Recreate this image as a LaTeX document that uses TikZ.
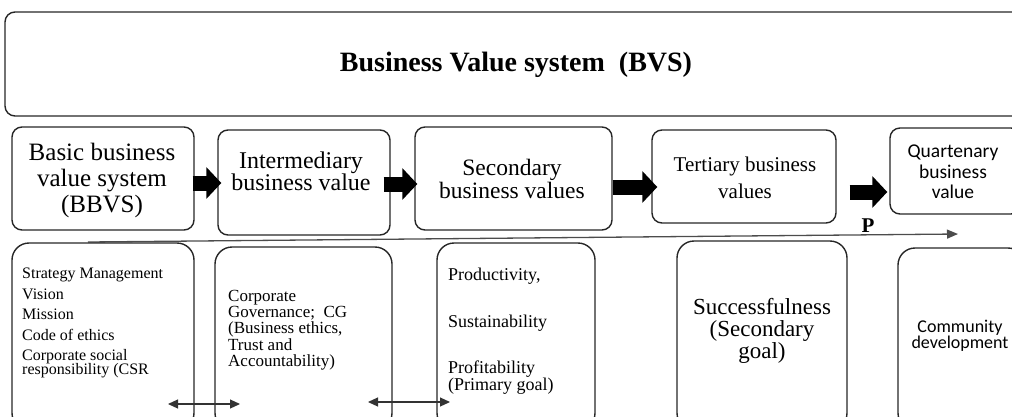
\documentclass[tikz,border=0pt]{standalone}
\usepackage{fontspec}
\setmainfont{Liberation Serif}
\newfontfamily\calfont{Carlito}
\usetikzlibrary{arrows.meta}
\begin{document}
\begin{tikzpicture}[x=1pt,y=-1pt,
  frame/.style={draw=black!85, line width=1.4pt, rounded corners=10pt, inner sep=0pt},
  lowframe/.style={frame, rounded corners=17pt},
  txt/.style={inner sep=0pt, align=center},
  ltxt/.style={inner sep=0pt, align=left, anchor=north west},
  blk/.style={line width=15pt, black, -{Triangle[length=15pt,width=31pt]}},
  dbl/.style={line width=1.1pt, black!80,
    {Triangle[length=10pt,width=9pt]}-{Triangle[length=10pt,width=9pt]}},
  pline/.style={line width=1.3pt, black!70, -{Triangle[length=11pt,width=9pt]}}
]
\useasboundingbox (0,0) rectangle (1012,416);
\clip (0,0) rectangle (1012,416);

% overall system frame
\node[frame, minimum width=1025pt, minimum height=104pt] (bvs) at (517.5,64) {};
\node[txt, font=\fontsize{28}{30}\selectfont\bfseries] (bvst) at (516,65) {Business Value system\ \ (BVS)};

% upper row of value levels
\node[frame, minimum width=182pt, minimum height=103pt] (b1) at (103,178.5) {};
\node[frame, minimum width=172pt, minimum height=105pt] (b2) at (304,182.5) {};
\node[frame, minimum width=197pt, minimum height=103pt] (b3) at (513.5,178.5) {};
\node[frame, minimum width=184pt, minimum height=93pt] (b4) at (744,176.5) {};
\node[frame, minimum width=131pt, minimum height=86pt] (b5) at (955.5,171) {};

\node[txt, font=\fontsize{25}{26}\selectfont] (t1) at (102,180) {Basic business\\value system\\(BBVS)};
\node[txt, font=\fontsize{24}{22}\selectfont] (t2) at (301,171) {Intermediary\\business value};
\node[txt, font=\fontsize{23.5}{19}\selectfont] (t3) at (512,179) {Secondary\\business values};
\node[txt, font=\fontsize{21}{27}\selectfont] (t4) at (745,178) {Tertiary business\\values};
\node[txt, font=\calfont\fontsize{19.5}{20.5}\selectfont] (t5) at (953,172) {Quartenary\\business\\value};

% block arrows between the levels
\draw[blk, shorten <=-2pt, shorten >=-4pt] (b1.east |- 0,183) -- (b2.west |- 0,183);
\draw[blk, shorten <=-7pt, shorten >=-3pt] (b2.east |- 0,184) -- (b3.west |- 0,184);
\draw[blk, shorten >=-6pt] (b3.east |- 0,187) -- (b4.west |- 0,187);
\draw[blk, shorten <=13pt, shorten >=2pt] (b4.east |- 0,192) -- (b5.west |- 0,192);

% progression line
\coordinate (ps) at (88,242);
\coordinate (pe) at (958,234);
\draw[pline] (ps) -- (pe);
\node[font=\fontsize{21}{21}\selectfont\bfseries, inner sep=0pt, anchor=base] (p) at (868,232) {P};

% lower row of contents
\node[lowframe, minimum width=182pt, minimum height=187pt] (c1) at (103,336.5) {};
\node[lowframe, minimum width=177pt, minimum height=183pt] (c2) at (303.5,338.5) {};
\node[lowframe, minimum width=158pt, minimum height=187pt] (c3) at (516,336.5) {};
\node[lowframe, minimum width=170pt, minimum height=189pt] (c4) at (762,335.5) {};
\node[lowframe, minimum width=127pt, minimum height=182pt] (c5) at (961.5,339) {};

\node[ltxt, font=\fontsize{16}{20.5}\selectfont] (l1) at (22,268)
  {Strategy Management\\Vision\\Mission\\Code of ethics\\Corporate social\\[-6.5pt]responsibility (CSR};
\node[ltxt, font=\fontsize{17}{16.25}\selectfont] (l2) at (228,290)
  {Corporate\\Governance;\ \ CG\\(Business ethics,\\Trust and\\Accountability)};
\node[ltxt, font=\fontsize{18}{17}\selectfont] (l3) at (448,268)
  {Productivity,\\[30pt]Sustainability\\[29pt]Profitability\\(Primary goal)};
\node[txt, font=\fontsize{23}{22}\selectfont] (l4) at (762,331) {Successfulness\\(Secondary\\goal)};
\node[txt, font=\calfont\fontsize{18}{16}\selectfont] (l5) at (960,336) {Community\\development};

% links between neighbouring contents
\coordinate (d1a) at (168,404);
\coordinate (d1b) at (240,404);
\coordinate (d2a) at (368,402);
\coordinate (d2b) at (450,402);
\draw[dbl] (d1a) -- (d1b);
\draw[dbl] (d2a) -- (d2b);
\end{tikzpicture}
\end{document}
